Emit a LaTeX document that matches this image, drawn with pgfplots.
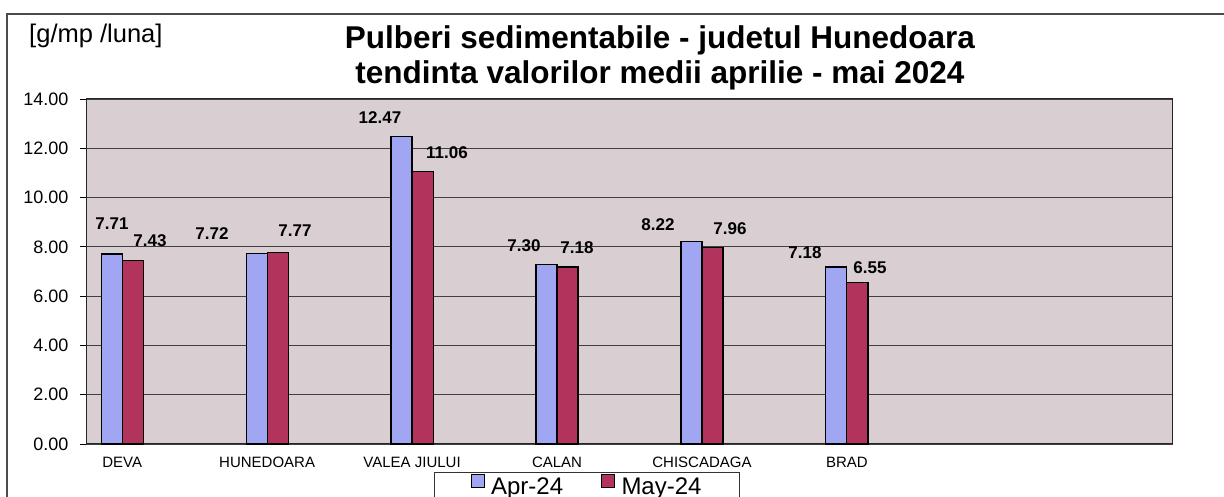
\documentclass[border=0pt]{standalone}
\usepackage{pgfplots}
\pgfplotsset{compat=1.18}
\usepackage{pgfplotstable}
\usepackage{fontspec}
\setmainfont{Liberation Sans}

\definecolor{plotbg}{RGB}{217,207,211}
\definecolor{aprbar}{RGB}{160,166,242}
\definecolor{maybar}{RGB}{178,52,92}

% category index (every other slot is empty, as in the original sheet)
\pgfplotstableread{
x  apr    may
0  7.71   7.43
2  7.72   7.77
4  12.47  11.06
6  7.30   7.18
8  8.22   7.96
10 7.18   6.55
}\pulberi

% where the value labels sit (moved by hand in the original)
\pgfplotstableread{
x       y      lbl
-0.141  8.93   7.71
0.383   8.24   7.43
1.239   8.52   7.72
2.384   8.64   7.77
3.557   13.23  12.47
4.481   11.81  11.06
5.544   8.04   7.30
6.275   7.95   7.18
7.393   8.89   8.22
8.386   8.73   7.96
9.421   7.75   7.18
10.318  7.14   6.55
}\etichete

\begin{document}
\begin{tikzpicture}
\useasboundingbox (0,0) rectangle (1224pt,497pt);
\draw[black!70, line width=1.2pt] (1224pt,483pt) -- (7pt,483pt) -- (7pt,-5pt);
\begin{axis}[
    at={(86pt,53pt)}, anchor=south west,
    scale only axis, width=1087pt, height=345pt,
    clip=false,
    xmin=-0.5, xmax=14.5, ymin=0, ymax=14,
    axis background/.style={fill=plotbg},
    axis line style={black!85, line width=1pt},
    xtick={0,2,4,6,8,10},
    xticklabels={DEVA,HUNEDOARA,VALEA JIULUI,CALAN,CHISCADAGA,BRAD},
    minor xtick={-0.5,0.5,...,14.5},
    x tick style={draw=none},
    minor x tick style={black, line width=0.8pt},
    minor tick length=6pt,
    ytick={0,2,...,14},
    y tick style={black, line width=0.8pt},
    major tick length=6pt,
    tick align=outside,
    xtick pos=bottom, ytick pos=left,
    xticklabel style={font=\fontsize{15}{17}\selectfont, anchor=base, text height=11pt, text depth=0pt, yshift=-18pt},
    yticklabel style={font=\fontsize{18}{20}\selectfont, xshift=-8pt},
    yticklabel={\pgfmathprintnumber[fixed,fixed zerofill,precision=2,assume math mode=true]{\tick}},
    ymajorgrids, grid style={black!75, line width=0.9pt},
    legend columns=2,
    legend style={at={(0.461,-0.081)}, anchor=north, draw=black!80, line width=0.8pt,
        font=\fontsize{24}{28}\selectfont, inner xsep=36pt, inner ysep=2pt,
        /tikz/every even column/.append style={column sep=36pt}},
    legend image code/.code={\path[draw=none, fill=none] (0pt,0pt) -- (18pt,0pt);
        \draw[#1, line width=0.8pt] (0pt,-1pt) rectangle (13pt,12pt);},
]
\addplot[ybar, bar width=0.29, bar shift=-0.145, fill=aprbar, draw=black, line width=1.2pt]
    table[x=x, y=apr] {\pulberi};
\addlegendentry{Apr-24}
\addplot[ybar, bar width=0.29, bar shift=0.145, fill=maybar, draw=black, line width=1.2pt]
    table[x=x, y=may] {\pulberi};
\addlegendentry{May-24}
\addplot[draw=none, mark=none, forget plot, nodes near coords, point meta=explicit symbolic,
    nodes near coords style={anchor=center, inner sep=0pt, font=\bfseries\fontsize{17}{19}\selectfont}]
    table[x=x, y=y, meta=lbl] {\etichete};
\node[anchor=base west, inner sep=0pt, font=\fontsize{25.5}{28}\selectfont] at (rel axis cs:-0.0524,1.165) {[g/mp /luna]};
\node[anchor=south, align=center, inner sep=0pt, font=\bfseries\fontsize{31.5}{35}\selectfont]
    at (rel axis cs:0.528,1.026) {Pulberi sedimentabile - judetul Hunedoara\\tendinta valorilor medii aprilie - mai 2024};
\end{axis}
\end{tikzpicture}
\end{document}
